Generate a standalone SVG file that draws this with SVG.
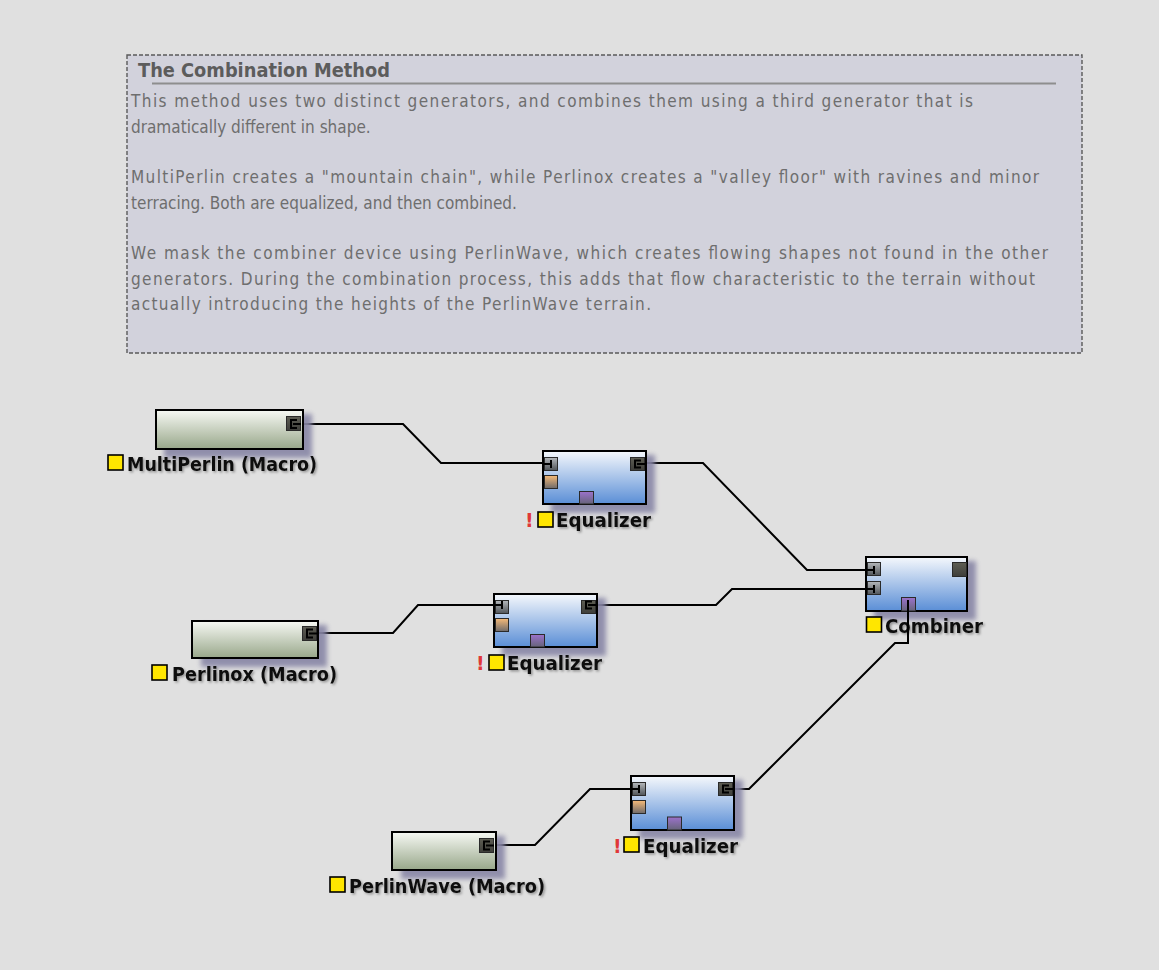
<svg xmlns="http://www.w3.org/2000/svg" width="1159" height="970" viewBox="0 0 1159 970">
<defs>
<linearGradient id="gMacro" x1="0" y1="0" x2="0" y2="1"><stop offset="0" stop-color="#f7f9f4"/><stop offset="1" stop-color="#98a78a"/></linearGradient>
<linearGradient id="gNode" x1="0" y1="0" x2="0" y2="1"><stop offset="0" stop-color="#f5f8fc"/><stop offset="1" stop-color="#5a8ed6"/></linearGradient>
<linearGradient id="gIn" x1="0" y1="0" x2="0" y2="1"><stop offset="0" stop-color="#b4b8bc"/><stop offset="1" stop-color="#505458"/></linearGradient>
<linearGradient id="gOut" x1="0" y1="0" x2="0" y2="1"><stop offset="0" stop-color="#5e5e54"/><stop offset="1" stop-color="#3e3e3a"/></linearGradient>
<linearGradient id="gOr" x1="0" y1="0" x2="0" y2="1"><stop offset="0" stop-color="#f6ba78"/><stop offset="1" stop-color="#6e6a6a"/></linearGradient>
<linearGradient id="gPu" x1="0" y1="0" x2="0" y2="1"><stop offset="0" stop-color="#9c72cc"/><stop offset="1" stop-color="#66647a"/></linearGradient>
<filter id="fSh" x="-20%" y="-20%" width="150%" height="160%"><feGaussianBlur stdDeviation="2.5"/></filter>
<filter id="fTx" x="-5%" y="-20%" width="115%" height="160%"><feDropShadow dx="1.5" dy="1.5" stdDeviation="1.2" flood-color="#000" flood-opacity="0.35"/></filter>
</defs>
<style>
.desc{font-family:"DejaVu Sans Condensed","DejaVu Sans","Liberation Sans",sans-serif;font-stretch:condensed;font-size:17px;fill:#6e6e6e}
.title{font-family:"DejaVu Sans Condensed","DejaVu Sans","Liberation Sans",sans-serif;font-stretch:condensed;font-size:19px;font-weight:bold;fill:#5c5c5c}
.lbl{font-family:"DejaVu Sans Condensed","DejaVu Sans","Liberation Sans",sans-serif;font-stretch:condensed;font-size:19px;font-weight:bold;fill:#111}
.excl{font-family:"DejaVu Sans","Liberation Sans",sans-serif;font-size:19px;font-weight:bold;fill:#e03838}
.sh{fill:#8886a6;opacity:0.9}
.box{stroke:#000;stroke-width:2}
.macro{fill:url(#gMacro)}
.node{fill:url(#gNode)}
.pin{fill:url(#gIn);stroke:#2a2a2a;stroke-width:1}
.pout{fill:url(#gOut);stroke:#2a2a2a;stroke-width:1}
.por{fill:url(#gOr);stroke:#2a2a2a;stroke-width:1}
.ppu{fill:url(#gPu);stroke:#2a2a2a;stroke-width:1}
.gl{fill:none;stroke:#000;stroke-width:2}
.sq{fill:#ffe600;stroke:#000;stroke-width:1.6}
.wire{fill:none;stroke:#000;stroke-width:2;stroke-linejoin:miter}
</style>
<rect x="0" y="0" width="1159" height="970" fill="#e0e0e0"/>
<g id="comment">
<rect x="127" y="55" width="955" height="298" fill="#d2d2dc" stroke="#5a5a5a" stroke-width="1.4" stroke-dasharray="4,2"/>
<text class="title" x="138" y="77" textLength="252" lengthAdjust="spacingAndGlyphs">The Combination Method</text>
<line x1="152" y1="83.5" x2="1056" y2="83.5" stroke="#8e8e8e" stroke-width="2"/>
<text class="desc" x="131" y="107" textLength="842" lengthAdjust="spacing">This method uses two distinct generators, and combines them using a third generator that is</text>
<text class="desc" x="131" y="133">dramatically different in shape.</text>
<text class="desc" x="131" y="183" textLength="908" lengthAdjust="spacing">MultiPerlin creates a "mountain chain", while Perlinox creates a "valley floor" with ravines and minor</text>
<text class="desc" x="131" y="209">terracing. Both are equalized, and then combined.</text>
<text class="desc" x="131" y="259" textLength="917" lengthAdjust="spacing">We mask the combiner device using PerlinWave, which creates flowing shapes not found in the other</text>
<text class="desc" x="131" y="285" textLength="904" lengthAdjust="spacing">generators. During the combination process, this adds that flow characteristic to the terrain without</text>
<text class="desc" x="131" y="310" textLength="520" lengthAdjust="spacing">actually introducing the heights of the PerlinWave terrain.</text>
</g>
<g id="connectors">
<path class="wire" d="M 297 424 H 403 L 441 463 H 550"/>
<path class="wire" d="M 637 463 H 703 L 807 570 H 873"/>
<path class="wire" d="M 310 633 H 393 L 418 605 H 501"/>
<path class="wire" d="M 588 605 H 716 L 732 589 H 873"/>
<path class="wire" d="M 724 789 H 749 L 895 643 H 908 V 604"/>
<path class="wire" d="M 486 845 H 535 L 590 789 H 638"/>
</g>
<g id="multiperlin">
<rect class="sh" x="164" y="414" width="148" height="44" filter="url(#fSh)"/>
<rect class="box macro" x="156" y="410" width="147" height="39"/>
<rect class="pout" x="286.5" y="416.5" width="14" height="14"/>
<path class="gl" d="M 297 420 H 291 V 428 H 297 M 293 424 H 301"/>
<rect class="sq" x="108" y="455" width="15" height="15"/>
<text class="lbl" x="127" y="471" filter="url(#fTx)" textLength="190" lengthAdjust="spacingAndGlyphs">MultiPerlin (Macro)</text>
</g>
<g id="perlinox">
<rect class="sh" x="201" y="625" width="126" height="42" filter="url(#fSh)"/>
<rect class="box macro" x="192" y="621" width="126" height="37"/>
<rect class="pout" x="302.5" y="626.5" width="14" height="14"/>
<path class="gl" d="M 313 629.5 H 307 V 637.5 H 313 M 309 633.5 H 317"/>
<rect class="sq" x="152" y="665" width="15" height="15"/>
<text class="lbl" x="172" y="681" filter="url(#fTx)" textLength="165" lengthAdjust="spacingAndGlyphs">Perlinox (Macro)</text>
</g>
<g id="perlinwave">
<rect class="sh" x="401" y="836" width="104" height="43" filter="url(#fSh)"/>
<rect class="box macro" x="392" y="832" width="104" height="38"/>
<rect class="pout" x="479.5" y="838.5" width="14" height="14"/>
<path class="gl" d="M 490 841.5 H 484 V 849.5 H 490 M 486 845.5 H 494"/>
<rect class="sq" x="330" y="877" width="15" height="15"/>
<text class="lbl" x="349" y="893" filter="url(#fTx)" textLength="196" lengthAdjust="spacingAndGlyphs">PerlinWave (Macro)</text>
</g>
<g id="equalizer1" transform="translate(543,451)">
<rect class="sh" x="8" y="4" width="104" height="58" filter="url(#fSh)"/>
<rect class="box node" x="0" y="0" width="103" height="53"/>
<rect class="pin" x="1.5" y="6.5" width="13" height="13"/>
<path class="gl" d="M 1 13 H 8 M 8 9 V 17"/>
<rect class="por" x="1.5" y="24.5" width="13" height="13"/>
<rect class="pout" x="87.5" y="6.5" width="14" height="13"/>
<path class="gl" d="M 98 9.5 H 92 V 16.5 H 98 M 94 13 H 102"/>
<rect class="ppu" x="36.5" y="40.5" width="14" height="12.5"/>
<text class="excl" x="-18" y="76">!</text>
<rect class="sq" x="-5" y="61" width="15" height="15"/>
<text class="lbl" x="13" y="76" filter="url(#fTx)" textLength="95" lengthAdjust="spacingAndGlyphs">Equalizer</text>
</g>
<g id="equalizer2" transform="translate(494,594)">
<rect class="sh" x="8" y="4" width="104" height="58" filter="url(#fSh)"/>
<rect class="box node" x="0" y="0" width="103" height="53"/>
<rect class="pin" x="1.5" y="6.5" width="13" height="13"/>
<path class="gl" d="M 1 11 H 8 M 8 7 V 15"/>
<rect class="por" x="1.5" y="24.5" width="13" height="13"/>
<rect class="pout" x="87.5" y="6.5" width="14" height="13"/>
<path class="gl" d="M 98 7.5 H 92 V 14.5 H 98 M 94 11 H 102"/>
<rect class="ppu" x="36.5" y="40.5" width="14" height="12.5"/>
<text class="excl" x="-18" y="76">!</text>
<rect class="sq" x="-5" y="61" width="15" height="15"/>
<text class="lbl" x="13" y="76" filter="url(#fTx)" textLength="95" lengthAdjust="spacingAndGlyphs">Equalizer</text>
</g>
<g id="equalizer3" transform="translate(631,776)">
<rect class="sh" x="8" y="4" width="104" height="59" filter="url(#fSh)"/>
<rect class="box node" x="0" y="0" width="103" height="54"/>
<rect class="pin" x="1.5" y="6.5" width="13" height="13"/>
<path class="gl" d="M 1 13 H 8 M 8 9 V 17"/>
<rect class="por" x="1.5" y="24.5" width="13" height="13"/>
<rect class="pout" x="87.5" y="6.5" width="14" height="13"/>
<path class="gl" d="M 98 9.5 H 92 V 16.5 H 98 M 94 13 H 102"/>
<rect class="ppu" x="36.5" y="41" width="14" height="13"/>
<text class="excl" x="-18" y="77">!</text>
<rect class="sq" x="-7" y="61" width="15" height="15"/>
<text class="lbl" x="12" y="77" filter="url(#fTx)" textLength="95" lengthAdjust="spacingAndGlyphs">Equalizer</text>
</g>
<g id="combiner" transform="translate(866,557)">
<rect class="sh" x="8" y="4" width="102" height="59" filter="url(#fSh)"/>
<rect class="box node" x="0" y="0" width="101" height="54"/>
<rect class="pin" x="1.5" y="5.5" width="13" height="13"/>
<path class="gl" d="M 1 13 H 8 M 8 9 V 17"/>
<rect class="pin" x="1.5" y="24.5" width="13" height="13"/>
<path class="gl" d="M 1 32 H 8 M 8 28 V 36"/>
<rect class="pout" x="86.5" y="5.5" width="14" height="14"/>
<rect class="ppu" x="35.5" y="40.5" width="14" height="13.5"/>
<rect class="sq" x="0.5" y="60" width="15" height="15"/>
<text class="lbl" x="19" y="76" filter="url(#fTx)" textLength="98" lengthAdjust="spacingAndGlyphs">Combiner</text>
</g>
<path class="wire" d="M 908 643 V 600"/>
</svg>
